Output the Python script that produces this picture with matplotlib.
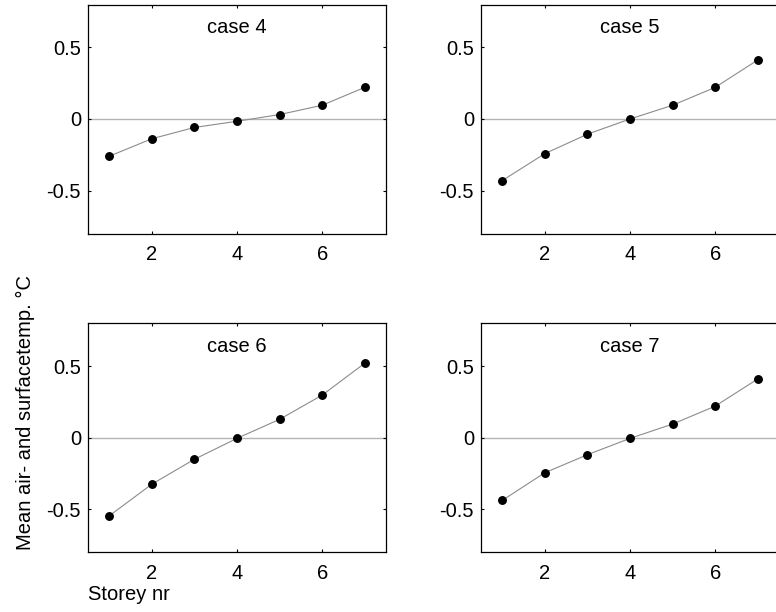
import matplotlib
matplotlib.use("Agg")
import matplotlib.pyplot as plt

storey = [1, 2, 3, 4, 5, 6, 7]
case4 = [-0.26, -0.138, -0.059, -0.016, 0.031, 0.096, 0.221]
case5 = [-0.43, -0.242, -0.106, 0.0, 0.096, 0.221, 0.412]
case6 = [-0.545, -0.324, -0.150, -0.004, 0.129, 0.298, 0.521]
case7 = [-0.437, -0.244, -0.118, -0.004, 0.096, 0.221, 0.411]
titles = ["case 4", "case 5", "case 6", "case 7"]
series = [case4, case5, case6, case7]
xticks = [2, 4, 6]
yticks = [-0.5, 0, 0.5]
yticklabels = ["-0.5", "0", "0.5"]

plt.rcParams['font.family'] = ['Liberation Sans', 'DejaVu Sans']
FS = 14.5
W, H = 776, 612
fig = plt.figure(figsize=(W / 100, H / 100), dpi=100)

# axes boxes in pixels: (left, top, width, height)
boxes = [(88, 4.5, 298, 229), (481, 4.5, 298, 229),
         (88, 323.3, 298, 229), (481, 323.3, 298, 229)]

for (l, t, w, h), ttl, ys in zip(boxes, titles, series):
    ax = fig.add_axes([l / W, 1 - (t + h) / H, w / W, h / H])
    ax.axhline(0, color='#b4b4b4', lw=1.0, zorder=1)
    ax.plot(storey, ys, color='#8c8c8c', lw=0.8, marker='o', ms=5.4,
            mfc='black', mec='black', zorder=3)
    ax.set_xlim(0.5, 7.5)
    ax.set_ylim(-0.8, 0.8)
    ax.set_xticks(xticks)
    ax.set_yticks(yticks)
    ax.set_yticklabels(yticklabels)
    ax.tick_params(direction='in', length=2.5, width=0.8, top=True, right=True,
                   labelsize=FS, colors='black')
    ax.tick_params(axis='x', pad=8.5)
    ax.tick_params(axis='y', pad=5)
    for s in ax.spines.values():
        s.set_linewidth(0.9)
    ax.text(4, 0.64, ttl, ha='center', va='center', fontsize=FS)

fig.text(25 / W, 1 - 412 / H, "Mean air- and surfacetemp. °C", rotation=90,
         ha='center', va='center', fontsize=FS)
fig.text(88 / W, 1 - 595 / H, "Storey nr", ha='left', va='center', fontsize=FS)

fig.savefig("out.png", dpi=100)
